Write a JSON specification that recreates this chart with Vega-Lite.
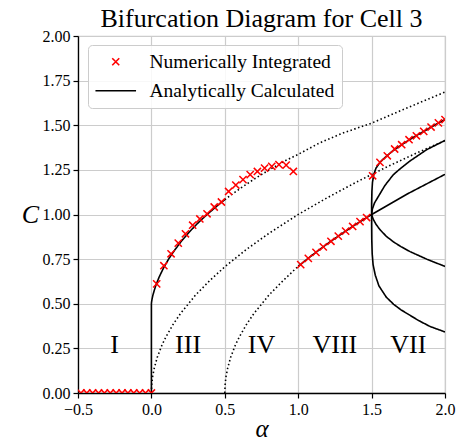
{
  "$schema": "https://vega.github.io/schema/vega-lite/v6.json",
  "width": 367,
  "height": 357,
  "autosize": "none",
  "padding": {"left": 78, "top": 36, "right": 15, "bottom": 48},
  "background": "white",
  "title": {"text": "Bifurcation Diagram for Cell 3", "font": "Liberation Serif", "fontSize": 26, "fontWeight": "normal", "color": "black", "anchor": "middle", "offset": -4},
  "config": {
    "font": "Liberation Serif",
    "view": {"stroke": "#cccccc", "strokeWidth": 1.2},
    "axis": {"labelFont": "Liberation Serif", "labelFontSize": 16, "labelColor": "#000", "titleFont": "Liberation Serif", "titleColor": "#000", "titleFontWeight": "normal", "gridColor": "#cccccc", "gridWidth": 1.2, "domainColor": "#000", "domainWidth": 1.3, "tickColor": "#000", "tickSize": 5, "tickWidth": 1.2, "labelPadding": 3},
    "style": {"guide-label": {"font": "Liberation Serif"}, "guide-title": {"font": "Liberation Serif"}}
  },
  "datasets": {
    "curves": [
      {"curve": "A", "stability": "stable", "k": 0, "alpha": 0, "C": 0},
      {"curve": "A", "stability": "stable", "k": 1, "alpha": 0, "C": 0.25},
      {"curve": "A", "stability": "stable", "k": 2, "alpha": 0, "C": 0.5},
      {"curve": "A", "stability": "stable", "k": 3, "alpha": 0.0012, "C": 0.51},
      {"curve": "A", "stability": "stable", "k": 4, "alpha": 0.0041, "C": 0.525},
      {"curve": "A", "stability": "stable", "k": 5, "alpha": 0.0107, "C": 0.55},
      {"curve": "A", "stability": "stable", "k": 6, "alpha": 0.0289, "C": 0.6},
      {"curve": "A", "stability": "stable", "k": 7, "alpha": 0.0529, "C": 0.65},
      {"curve": "A", "stability": "stable", "k": 8, "alpha": 0.0823, "C": 0.7},
      {"curve": "A", "stability": "stable", "k": 9, "alpha": 0.117, "C": 0.75},
      {"curve": "A", "stability": "stable", "k": 10, "alpha": 0.158, "C": 0.8},
      {"curve": "A", "stability": "stable", "k": 11, "alpha": 0.204, "C": 0.85},
      {"curve": "A", "stability": "stable", "k": 12, "alpha": 0.256, "C": 0.9},
      {"curve": "A", "stability": "stable", "k": 13, "alpha": 0.314, "C": 0.95},
      {"curve": "A", "stability": "stable", "k": 14, "alpha": 0.379, "C": 1.0},
      {"curve": "A", "stability": "stable", "k": 15, "alpha": 0.45, "C": 1.05},
      {"curve": "A", "stability": "stable", "k": 16, "alpha": 0.5, "C": 1.083},
      {"curve": "D", "stability": "unstable", "k": 0, "alpha": 0.5, "C": 1.083},
      {"curve": "D", "stability": "unstable", "k": 1, "alpha": 0.527, "C": 1.1},
      {"curve": "D", "stability": "unstable", "k": 2, "alpha": 0.612, "C": 1.15},
      {"curve": "D", "stability": "unstable", "k": 3, "alpha": 0.703, "C": 1.2},
      {"curve": "D", "stability": "unstable", "k": 4, "alpha": 0.802, "C": 1.25},
      {"curve": "D", "stability": "unstable", "k": 5, "alpha": 0.908, "C": 1.3},
      {"curve": "D", "stability": "unstable", "k": 6, "alpha": 1.0, "C": 1.337},
      {"curve": "D", "stability": "unstable", "k": 7, "alpha": 1.143, "C": 1.4},
      {"curve": "D", "stability": "unstable", "k": 8, "alpha": 1.3, "C": 1.455},
      {"curve": "D", "stability": "unstable", "k": 9, "alpha": 1.5, "C": 1.512},
      {"curve": "D", "stability": "unstable", "k": 10, "alpha": 1.75, "C": 1.6},
      {"curve": "D", "stability": "unstable", "k": 11, "alpha": 2.0, "C": 1.686},
      {"curve": "B", "stability": "unstable", "k": 0, "alpha": 0, "C": 0},
      {"curve": "B", "stability": "unstable", "k": 1, "alpha": 0.002, "C": 0.045},
      {"curve": "B", "stability": "unstable", "k": 2, "alpha": 0.008, "C": 0.09},
      {"curve": "B", "stability": "unstable", "k": 3, "alpha": 0.02, "C": 0.141},
      {"curve": "B", "stability": "unstable", "k": 4, "alpha": 0.04, "C": 0.2},
      {"curve": "B", "stability": "unstable", "k": 5, "alpha": 0.07, "C": 0.265},
      {"curve": "B", "stability": "unstable", "k": 6, "alpha": 0.1, "C": 0.316},
      {"curve": "B", "stability": "unstable", "k": 7, "alpha": 0.15, "C": 0.387},
      {"curve": "B", "stability": "unstable", "k": 8, "alpha": 0.2, "C": 0.447},
      {"curve": "B", "stability": "unstable", "k": 9, "alpha": 0.3, "C": 0.548},
      {"curve": "B", "stability": "unstable", "k": 10, "alpha": 0.4, "C": 0.632},
      {"curve": "B", "stability": "unstable", "k": 11, "alpha": 0.5, "C": 0.707},
      {"curve": "B", "stability": "unstable", "k": 12, "alpha": 0.65, "C": 0.806},
      {"curve": "B", "stability": "unstable", "k": 13, "alpha": 0.8, "C": 0.894},
      {"curve": "B", "stability": "unstable", "k": 14, "alpha": 1.0, "C": 1.0},
      {"curve": "B", "stability": "unstable", "k": 15, "alpha": 1.2, "C": 1.095},
      {"curve": "B", "stability": "unstable", "k": 16, "alpha": 1.4, "C": 1.183},
      {"curve": "B", "stability": "unstable", "k": 17, "alpha": 1.6, "C": 1.265},
      {"curve": "B", "stability": "unstable", "k": 18, "alpha": 1.8, "C": 1.342},
      {"curve": "B", "stability": "unstable", "k": 19, "alpha": 2.0, "C": 1.414},
      {"curve": "E1", "stability": "unstable", "k": 0, "alpha": 0.5, "C": 0},
      {"curve": "E1", "stability": "unstable", "k": 1, "alpha": 0.502, "C": 0.045},
      {"curve": "E1", "stability": "unstable", "k": 2, "alpha": 0.508, "C": 0.09},
      {"curve": "E1", "stability": "unstable", "k": 3, "alpha": 0.52, "C": 0.141},
      {"curve": "E1", "stability": "unstable", "k": 4, "alpha": 0.54, "C": 0.2},
      {"curve": "E1", "stability": "unstable", "k": 5, "alpha": 0.57, "C": 0.265},
      {"curve": "E1", "stability": "unstable", "k": 6, "alpha": 0.6, "C": 0.316},
      {"curve": "E1", "stability": "unstable", "k": 7, "alpha": 0.65, "C": 0.387},
      {"curve": "E1", "stability": "unstable", "k": 8, "alpha": 0.7, "C": 0.447},
      {"curve": "E1", "stability": "unstable", "k": 9, "alpha": 0.8, "C": 0.548},
      {"curve": "E1", "stability": "unstable", "k": 10, "alpha": 0.9, "C": 0.632},
      {"curve": "E1", "stability": "unstable", "k": 11, "alpha": 1.0, "C": 0.71},
      {"curve": "E2", "stability": "stable", "k": 0, "alpha": 1.0, "C": 0.71},
      {"curve": "E2", "stability": "stable", "k": 1, "alpha": 1.1, "C": 0.775},
      {"curve": "E2", "stability": "stable", "k": 2, "alpha": 1.2, "C": 0.837},
      {"curve": "E2", "stability": "stable", "k": 3, "alpha": 1.3, "C": 0.894},
      {"curve": "E2", "stability": "stable", "k": 4, "alpha": 1.4, "C": 0.949},
      {"curve": "E2", "stability": "stable", "k": 5, "alpha": 1.5, "C": 1.0},
      {"curve": "E2", "stability": "stable", "k": 6, "alpha": 1.75, "C": 1.118},
      {"curve": "E2", "stability": "stable", "k": 7, "alpha": 2.0, "C": 1.225},
      {"curve": "O", "stability": "stable", "k": 0, "alpha": 2.0, "C": 1.532},
      {"curve": "O", "stability": "stable", "k": 1, "alpha": 1.95, "C": 1.51},
      {"curve": "O", "stability": "stable", "k": 2, "alpha": 1.9, "C": 1.487},
      {"curve": "O", "stability": "stable", "k": 3, "alpha": 1.85, "C": 1.463},
      {"curve": "O", "stability": "stable", "k": 4, "alpha": 1.8, "C": 1.44},
      {"curve": "O", "stability": "stable", "k": 5, "alpha": 1.75, "C": 1.415},
      {"curve": "O", "stability": "stable", "k": 6, "alpha": 1.7, "C": 1.388},
      {"curve": "O", "stability": "stable", "k": 7, "alpha": 1.65, "C": 1.36},
      {"curve": "O", "stability": "stable", "k": 8, "alpha": 1.6, "C": 1.326},
      {"curve": "O", "stability": "stable", "k": 9, "alpha": 1.56, "C": 1.295},
      {"curve": "O", "stability": "stable", "k": 10, "alpha": 1.53, "C": 1.26},
      {"curve": "O", "stability": "stable", "k": 11, "alpha": 1.515, "C": 1.225},
      {"curve": "O", "stability": "stable", "k": 12, "alpha": 1.506, "C": 1.18},
      {"curve": "O", "stability": "stable", "k": 13, "alpha": 1.502, "C": 1.13},
      {"curve": "O", "stability": "stable", "k": 14, "alpha": 1.5, "C": 1.06},
      {"curve": "O", "stability": "stable", "k": 15, "alpha": 1.5, "C": 0.95},
      {"curve": "O", "stability": "stable", "k": 16, "alpha": 1.501, "C": 0.86},
      {"curve": "O", "stability": "stable", "k": 17, "alpha": 1.504, "C": 0.78},
      {"curve": "O", "stability": "stable", "k": 18, "alpha": 1.51, "C": 0.72},
      {"curve": "O", "stability": "stable", "k": 19, "alpha": 1.525, "C": 0.66},
      {"curve": "O", "stability": "stable", "k": 20, "alpha": 1.55, "C": 0.6},
      {"curve": "O", "stability": "stable", "k": 21, "alpha": 1.6, "C": 0.537},
      {"curve": "O", "stability": "stable", "k": 22, "alpha": 1.65, "C": 0.497},
      {"curve": "O", "stability": "stable", "k": 23, "alpha": 1.7, "C": 0.466},
      {"curve": "O", "stability": "stable", "k": 24, "alpha": 1.76, "C": 0.436},
      {"curve": "O", "stability": "stable", "k": 25, "alpha": 1.82, "C": 0.406},
      {"curve": "O", "stability": "stable", "k": 26, "alpha": 1.9, "C": 0.372},
      {"curve": "O", "stability": "stable", "k": 27, "alpha": 2.0, "C": 0.342},
      {"curve": "IU", "stability": "stable", "k": 0, "alpha": 1.5, "C": 1.0},
      {"curve": "IU", "stability": "stable", "k": 1, "alpha": 1.505, "C": 1.03},
      {"curve": "IU", "stability": "stable", "k": 2, "alpha": 1.52, "C": 1.065},
      {"curve": "IU", "stability": "stable", "k": 3, "alpha": 1.546, "C": 1.101},
      {"curve": "IU", "stability": "stable", "k": 4, "alpha": 1.591, "C": 1.163},
      {"curve": "IU", "stability": "stable", "k": 5, "alpha": 1.648, "C": 1.223},
      {"curve": "IU", "stability": "stable", "k": 6, "alpha": 1.7, "C": 1.26},
      {"curve": "IU", "stability": "stable", "k": 7, "alpha": 1.762, "C": 1.3},
      {"curve": "IU", "stability": "stable", "k": 8, "alpha": 1.875, "C": 1.363},
      {"curve": "IU", "stability": "stable", "k": 9, "alpha": 2.0, "C": 1.415},
      {"curve": "IL", "stability": "stable", "k": 0, "alpha": 1.5, "C": 1.0},
      {"curve": "IL", "stability": "stable", "k": 1, "alpha": 1.51, "C": 0.975},
      {"curve": "IL", "stability": "stable", "k": 2, "alpha": 1.53, "C": 0.945},
      {"curve": "IL", "stability": "stable", "k": 3, "alpha": 1.557, "C": 0.915},
      {"curve": "IL", "stability": "stable", "k": 4, "alpha": 1.6, "C": 0.878},
      {"curve": "IL", "stability": "stable", "k": 5, "alpha": 1.648, "C": 0.847},
      {"curve": "IL", "stability": "stable", "k": 6, "alpha": 1.7, "C": 0.82},
      {"curve": "IL", "stability": "stable", "k": 7, "alpha": 1.762, "C": 0.792},
      {"curve": "IL", "stability": "stable", "k": 8, "alpha": 1.875, "C": 0.75},
      {"curve": "IL", "stability": "stable", "k": 9, "alpha": 2.0, "C": 0.709}
    ],
    "numeric": [
      {"series": "Numerically Integrated", "alpha": -0.48, "C": 0},
      {"series": "Numerically Integrated", "alpha": -0.44, "C": 0},
      {"series": "Numerically Integrated", "alpha": -0.4, "C": 0},
      {"series": "Numerically Integrated", "alpha": -0.36, "C": 0},
      {"series": "Numerically Integrated", "alpha": -0.32, "C": 0},
      {"series": "Numerically Integrated", "alpha": -0.28, "C": 0},
      {"series": "Numerically Integrated", "alpha": -0.24, "C": 0},
      {"series": "Numerically Integrated", "alpha": -0.2, "C": 0},
      {"series": "Numerically Integrated", "alpha": -0.16, "C": 0},
      {"series": "Numerically Integrated", "alpha": -0.12, "C": 0},
      {"series": "Numerically Integrated", "alpha": -0.08, "C": 0},
      {"series": "Numerically Integrated", "alpha": -0.04, "C": 0},
      {"series": "Numerically Integrated", "alpha": 0.0, "C": 0},
      {"series": "Numerically Integrated", "alpha": 0.036, "C": 0.611},
      {"series": "Numerically Integrated", "alpha": 0.085, "C": 0.713},
      {"series": "Numerically Integrated", "alpha": 0.134, "C": 0.78},
      {"series": "Numerically Integrated", "alpha": 0.183, "C": 0.84},
      {"series": "Numerically Integrated", "alpha": 0.232, "C": 0.892},
      {"series": "Numerically Integrated", "alpha": 0.281, "C": 0.94},
      {"series": "Numerically Integrated", "alpha": 0.33, "C": 0.975},
      {"series": "Numerically Integrated", "alpha": 0.379, "C": 1.004},
      {"series": "Numerically Integrated", "alpha": 0.428, "C": 1.042},
      {"series": "Numerically Integrated", "alpha": 0.477, "C": 1.07},
      {"series": "Numerically Integrated", "alpha": 0.526, "C": 1.129},
      {"series": "Numerically Integrated", "alpha": 0.575, "C": 1.165},
      {"series": "Numerically Integrated", "alpha": 0.624, "C": 1.195},
      {"series": "Numerically Integrated", "alpha": 0.673, "C": 1.223},
      {"series": "Numerically Integrated", "alpha": 0.722, "C": 1.241},
      {"series": "Numerically Integrated", "alpha": 0.771, "C": 1.26},
      {"series": "Numerically Integrated", "alpha": 0.82, "C": 1.27},
      {"series": "Numerically Integrated", "alpha": 0.869, "C": 1.279},
      {"series": "Numerically Integrated", "alpha": 0.918, "C": 1.277},
      {"series": "Numerically Integrated", "alpha": 0.967, "C": 1.241},
      {"series": "Numerically Integrated", "alpha": 1.017, "C": 0.719},
      {"series": "Numerically Integrated", "alpha": 1.069, "C": 0.754},
      {"series": "Numerically Integrated", "alpha": 1.121, "C": 0.788},
      {"series": "Numerically Integrated", "alpha": 1.171, "C": 0.819},
      {"series": "Numerically Integrated", "alpha": 1.223, "C": 0.85},
      {"series": "Numerically Integrated", "alpha": 1.273, "C": 0.879},
      {"series": "Numerically Integrated", "alpha": 1.323, "C": 0.907},
      {"series": "Numerically Integrated", "alpha": 1.371, "C": 0.933},
      {"series": "Numerically Integrated", "alpha": 1.421, "C": 0.96},
      {"series": "Numerically Integrated", "alpha": 1.466, "C": 0.983},
      {"series": "Numerically Integrated", "alpha": 1.507, "C": 1.217},
      {"series": "Numerically Integrated", "alpha": 1.557, "C": 1.292},
      {"series": "Numerically Integrated", "alpha": 1.607, "C": 1.329},
      {"series": "Numerically Integrated", "alpha": 1.657, "C": 1.367},
      {"series": "Numerically Integrated", "alpha": 1.705, "C": 1.391},
      {"series": "Numerically Integrated", "alpha": 1.755, "C": 1.419},
      {"series": "Numerically Integrated", "alpha": 1.805, "C": 1.441},
      {"series": "Numerically Integrated", "alpha": 1.855, "C": 1.466},
      {"series": "Numerically Integrated", "alpha": 1.905, "C": 1.49},
      {"series": "Numerically Integrated", "alpha": 1.955, "C": 1.513},
      {"series": "Numerically Integrated", "alpha": 2.0, "C": 1.532}
    ],
    "regions": [
      {"label": "I", "alpha": -0.25, "C": 0.27},
      {"label": "III", "alpha": 0.25, "C": 0.27},
      {"label": "IV", "alpha": 0.75, "C": 0.27},
      {"label": "VIII", "alpha": 1.25, "C": 0.27},
      {"label": "VII", "alpha": 1.75, "C": 0.27}
    ]
  },
  "encoding": {
    "x": {"field": "alpha", "type": "quantitative", "scale": {"domain": [-0.5, 2], "nice": false, "zero": false},
          "axis": {"values": [-0.5, 0, 0.5, 1, 1.5, 2], "format": ".1f", "title": "α", "labelFont": "Liberation Serif", "labelFontSize": 16, "titleFont": "Liberation Serif", "titleFontSize": 25, "titleFontStyle": "italic", "titleFontWeight": "normal", "titlePadding": -1, "grid": true, "labelFlush": false,
                   "encode": {"labels": {"update": {"font": {"value": "Liberation Serif"}}}, "title": {"update": {"font": {"value": "Liberation Serif"}}}}}},
    "y": {"field": "C", "type": "quantitative", "scale": {"domain": [0, 2], "nice": false, "zero": false},
          "axis": {"values": [0, 0.25, 0.5, 0.75, 1, 1.25, 1.5, 1.75, 2], "format": ".2f", "title": "C", "labelFont": "Liberation Serif", "labelFontSize": 16, "titleFont": "Liberation Serif", "titleFontWeight": "normal", "titleAngle": 0, "titleFontSize": 26, "titleFontStyle": "italic", "titleAlign": "center", "titleBaseline": "middle", "titleX": -48, "titleY": 178, "grid": true, "labelFlush": false,
                   "encode": {"labels": {"update": {"font": {"value": "Liberation Serif"}}}, "title": {"update": {"font": {"value": "Liberation Serif"}}}}}}
  },
  "layer": [
    {
      "data": {"name": "curves"},
      "mark": {"type": "line", "color": "black", "strokeWidth": 1.6, "clip": true},
      "encoding": {
        "detail": {"field": "curve", "type": "nominal"},
        "order": {"field": "k", "type": "quantitative"},
        "strokeDash": {"field": "stability", "type": "nominal", "scale": {"domain": ["stable", "unstable"], "range": [[1, 0], [1.5, 2.5]]}, "legend": null}
      }
    },
    {
      "data": {"values": [{}]},
      "mark": {"type": "rule", "color": "#555555", "strokeWidth": 1.6},
      "encoding": {"x": {"datum": -0.5, "type": "quantitative"}, "x2": {"datum": 2}, "y": {"datum": 2, "type": "quantitative"}}
    },
    {
      "data": {"name": "numeric"},
      "mark": {"type": "point", "filled": false, "strokeWidth": 1.5, "size": 52, "clip": true, "opacity": 1},
      "encoding": {
        "color": {"field": "series", "type": "nominal", "scale": {"domain": ["Numerically Integrated", "Analytically Calculated"], "range": ["#ff0000", "#000000"]},
                  "legend": {"orient": "none", "legendX": 10, "legendY": 9, "title": null, "labelFont": "Liberation Serif", "labelFontSize": 19.5, "labelColor": "black", "symbolSize": 49, "symbolStrokeWidth": 1.6, "padding": 7, "rowPadding": 8, "labelOffset": 24, "symbolOffset": 11, "strokeColor": "#cccccc", "fillColor": "rgba(255,255,255,0.85)", "cornerRadius": 4, "labelLimit": 400}},
        "shape": {"field": "series", "type": "nominal", "scale": {"domain": ["Numerically Integrated", "Analytically Calculated"], "range": ["M-1,-1L1,1M-1,1L1,-1", "M-5.8,0L5.8,0"]},
                  "legend": {"orient": "none", "legendX": 10, "legendY": 9, "title": null, "labelFont": "Liberation Serif", "labelFontSize": 19.5, "labelColor": "black", "symbolSize": 49, "symbolStrokeWidth": 1.6, "padding": 7, "rowPadding": 8, "labelOffset": 24, "symbolOffset": 11, "strokeColor": "#cccccc", "fillColor": "rgba(255,255,255,0.85)", "cornerRadius": 4, "labelLimit": 400}}
      }
    },
    {
      "data": {"name": "regions"},
      "mark": {"type": "text", "font": "Liberation Serif", "fontSize": 26, "color": "black", "align": "center", "baseline": "middle"},
      "encoding": {
        "text": {"field": "label", "type": "nominal"}
      }
    }
  ]
}
